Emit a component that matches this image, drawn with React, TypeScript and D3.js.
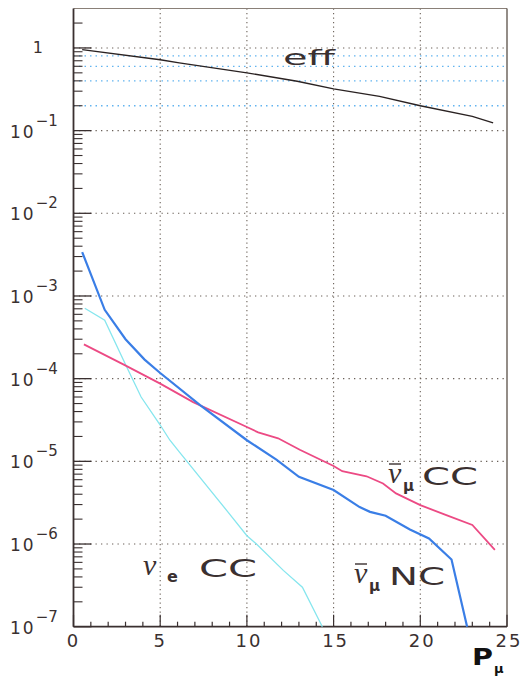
import React from "react";
import * as d3 from "d3";

// ---- data ----
const effP = [0.5, 5, 6.1, 10, 12.9, 15, 17.65, 20, 23, 24.2];
const effV = [0.953, 0.72, 0.66, 0.5, 0.395, 0.32, 0.26, 0.2, 0.149, 0.124];

const ncP = [0.5, 1.8, 3.0, 4.1, 5.0, 7.3, 10.0, 11.7, 13.0, 15.0, 16.5, 17.1, 18.0, 19.4, 20.5, 21.8, 22.7];
const ncV = [3.4e-3, 6.8e-4, 3.0e-4, 1.7e-4, 1.17e-4, 4.8e-5, 1.8e-5, 1.05e-5, 6.5e-6, 4.5e-6, 2.8e-6, 2.45e-6, 2.2e-6, 1.5e-6, 1.17e-6, 6.5e-7, 1e-7];

const ccP = [0.6, 2.9, 5.0, 6.9, 10.0, 10.65, 11.8, 13.05, 15.0, 15.5, 16.9, 17.85, 18.6, 20.0, 21.5, 23.0, 24.3];
const ccV = [2.6e-4, 1.48e-4, 8.7e-5, 5.2e-5, 2.6e-5, 2.24e-5, 1.9e-5, 1.38e-5, 8.8e-6, 7.6e-6, 6.6e-6, 5.4e-6, 4.1e-6, 2.95e-6, 2.24e-6, 1.7e-6, 8.5e-7];

const veP = [0.65, 1.8, 3.0, 3.9, 5.0, 5.56, 6.1, 8.9, 10.0, 10.55, 12.1, 13.2, 14.35];
const veV = [7.1e-4, 5.1e-4, 1.48e-4, 6.0e-5, 2.75e-5, 1.8e-5, 1.3e-5, 2.45e-6, 1.26e-6, 1.0e-6, 4.8e-7, 3.0e-7, 1e-7];

const xMajor = [0, 5, 10, 15, 20, 25];
const xMinor = d3.range(0, 26, 1);
const yDecades = [0, -1, -2, -3, -4, -5, -6, -7];
const effLevels = [0.8, 0.6, 0.4, 0.2];

const W = 521;
const H = 677;
const x = d3.scaleLinear().domain([0, 25]).range([73.5, 507]);
const y = d3.scaleLog().domain([1e-7, 3]).range([626.7, 8.5]);

const line = d3
  .line<[number, number]>()
  .x((d) => x(d[0]))
  .y((d) => y(d[1]));

const zip = (a: number[], b: number[]) => a.map((v, i) => [v, b[i]] as [number, number]);

const minorY: number[] = [];
for (let e = -7; e <= 0; e++) {
  for (let m = 2; m <= 9; m++) {
    const v = m * Math.pow(10, e);
    if (v <= 3 && e < 0) minorY.push(v);
  }
}
minorY.push(2);

const numFont = "DejaVu Sans, Verdana, sans-serif";
const ink = "#3a3030";

function NuBar({ x0, y0, sub }: { x0: number; y0: number; sub: string }) {
  return (
    <g>
      <line x1={x0 + 1} x2={x0 + 13} y1={y0 - 19} y2={y0 - 19} stroke={ink} strokeWidth={1.4} />
      <text x={x0} y={y0} fontFamily="Liberation Serif, serif" fontStyle="italic" fontSize={30} fill={ink}>
        ν
      </text>
      <text x={x0 + 15} y={y0 + 8} fontFamily={numFont} fontWeight="bold" fontSize={15} fill={ink}>
        {sub}
      </text>
    </g>
  );
}

export default function App() {
  return (
    <svg width={W} height={H} style={{ position: "absolute", left: 0, top: 0 }}>
      <rect width={W} height={H} fill="#fff" />
      {/* light blue efficiency level lines */}
      {effLevels.map((v) => (
        <line key={"e" + v} x1={x(0)} x2={x(25)} y1={y(v)} y2={y(v)} stroke="#62b4f0" strokeWidth={1.3} strokeDasharray="1.5,4" />
      ))}
      {/* decade grid */}
      {yDecades.slice(0, 7).map((e) => (
        <line key={"g" + e} x1={x(0)} x2={x(25)} y1={y(Math.pow(10, e))} y2={y(Math.pow(10, e))} stroke="#6a6058" strokeWidth={1.1} strokeDasharray="1.3,4.2" />
      ))}
      {[5, 10, 15, 20].map((v) => (
        <line key={"vg" + v} x1={x(v)} x2={x(v)} y1={y(3)} y2={y(1e-7)} stroke="#6a6058" strokeWidth={1.1} strokeDasharray="1.3,3.2" />
      ))}
      {/* frame */}
      <line x1={x(0)} x2={x(25)} y1={y(3)} y2={y(3)} stroke="#8a8078" strokeWidth={1.2} />
      <line x1={x(25)} x2={x(25)} y1={y(3)} y2={y(1e-7)} stroke="#5a5048" strokeWidth={1.3} />
      <line x1={x(0)} x2={x(0)} y1={y(3)} y2={y(1e-7)} stroke={ink} strokeWidth={1.8} />
      <line x1={x(0)} x2={x(25)} y1={y(1e-7)} y2={y(1e-7)} stroke={ink} strokeWidth={1.8} />
      {/* y ticks */}
      {yDecades.map((e) => (
        <line key={"yt" + e} x1={x(0)} x2={x(0) + 18} y1={y(Math.pow(10, e))} y2={y(Math.pow(10, e))} stroke={ink} strokeWidth={1.3} />
      ))}
      {minorY.map((v, i) => (
        <line key={"ym" + i} x1={x(0)} x2={x(0) + 9} y1={y(v)} y2={y(v)} stroke={ink} strokeWidth={1.1} />
      ))}
      {/* x ticks */}
      {xMinor.map((v) => (
        <line key={"xm" + v} x1={x(v)} x2={x(v)} y1={y(1e-7)} y2={y(1e-7) - (v % 5 === 0 ? 12 : 5)} stroke={ink} strokeWidth={1.2} />
      ))}
      {xMajor.map((v) => (
        <text key={"xl" + v} x={x(v) + (v >= 10 ? 2 : 0)} y={647} textAnchor="middle" fontFamily={numFont} fontSize={18} letterSpacing={2} fill={ink}>
          {v}
        </text>
      ))}
      {/* y labels */}
      <text x={43} y={y(1) + 5} textAnchor="end" fontFamily={numFont} fontSize={16} fill={ink}>
        1
      </text>
      {yDecades.slice(1).map((e) => (
        <text key={"yl" + e} x={10} y={y(Math.pow(10, e)) + 7} fontFamily={numFont} fontSize={17} letterSpacing={2} fill={ink}>
          10
          <tspan dy={-12} fontSize={15} letterSpacing={0}>
            {"\u2212" + -e}
          </tspan>
        </text>
      ))}
      {/* curves */}
      <path d={line(zip(veP, veV)) || ""} fill="none" stroke="#86e6ee" strokeWidth={1.3} />
      <path d={line(zip(ccP, ccV)) || ""} fill="none" stroke="#ec4a84" strokeWidth={1.8} />
      <path d={line(zip(ncP, ncV)) || ""} fill="none" stroke="#3a7ee6" strokeWidth={2.2} />
      <path d={line(zip(effP, effV)) || ""} fill="none" stroke="#2a2222" strokeWidth={1.4} />
      {/* labels */}
      <text x={283} y={65} fontFamily={numFont} fontSize={22} textLength={52} lengthAdjust="spacingAndGlyphs" fill={ink}>
        eff
      </text>
      <NuBar x0={388} y0={483} sub="μ" />
      <text x={422} y={485} fontFamily={numFont} fontSize={25} textLength={56} lengthAdjust="spacingAndGlyphs" fill={ink}>
        CC
      </text>
      <NuBar x0={354} y0={583} sub="μ" />
      <text x={389} y={585} fontFamily={numFont} fontSize={25} textLength={56} lengthAdjust="spacingAndGlyphs" fill={ink}>
        NC
      </text>
      <text x={143} y={575} fontFamily="Liberation Serif, serif" fontStyle="italic" fontSize={30} fill={ink}>
        ν
      </text>
      <text x={167} y={582} fontFamily={numFont} fontWeight="bold" fontSize={16} fill={ink}>
        e
      </text>
      <text x={199} y={577} fontFamily={numFont} fontSize={25} textLength={58} lengthAdjust="spacingAndGlyphs" fill={ink}>
        CC
      </text>
      <text x={472} y={665} fontFamily={numFont} fontWeight="bold" fontSize={23} textLength={21} lengthAdjust="spacingAndGlyphs" fill="#111">
        P
      </text>
      <text x={494} y={673} fontFamily={numFont} fontWeight="bold" fontSize={13} fill="#111">
        μ
      </text>
    </svg>
  );
}
